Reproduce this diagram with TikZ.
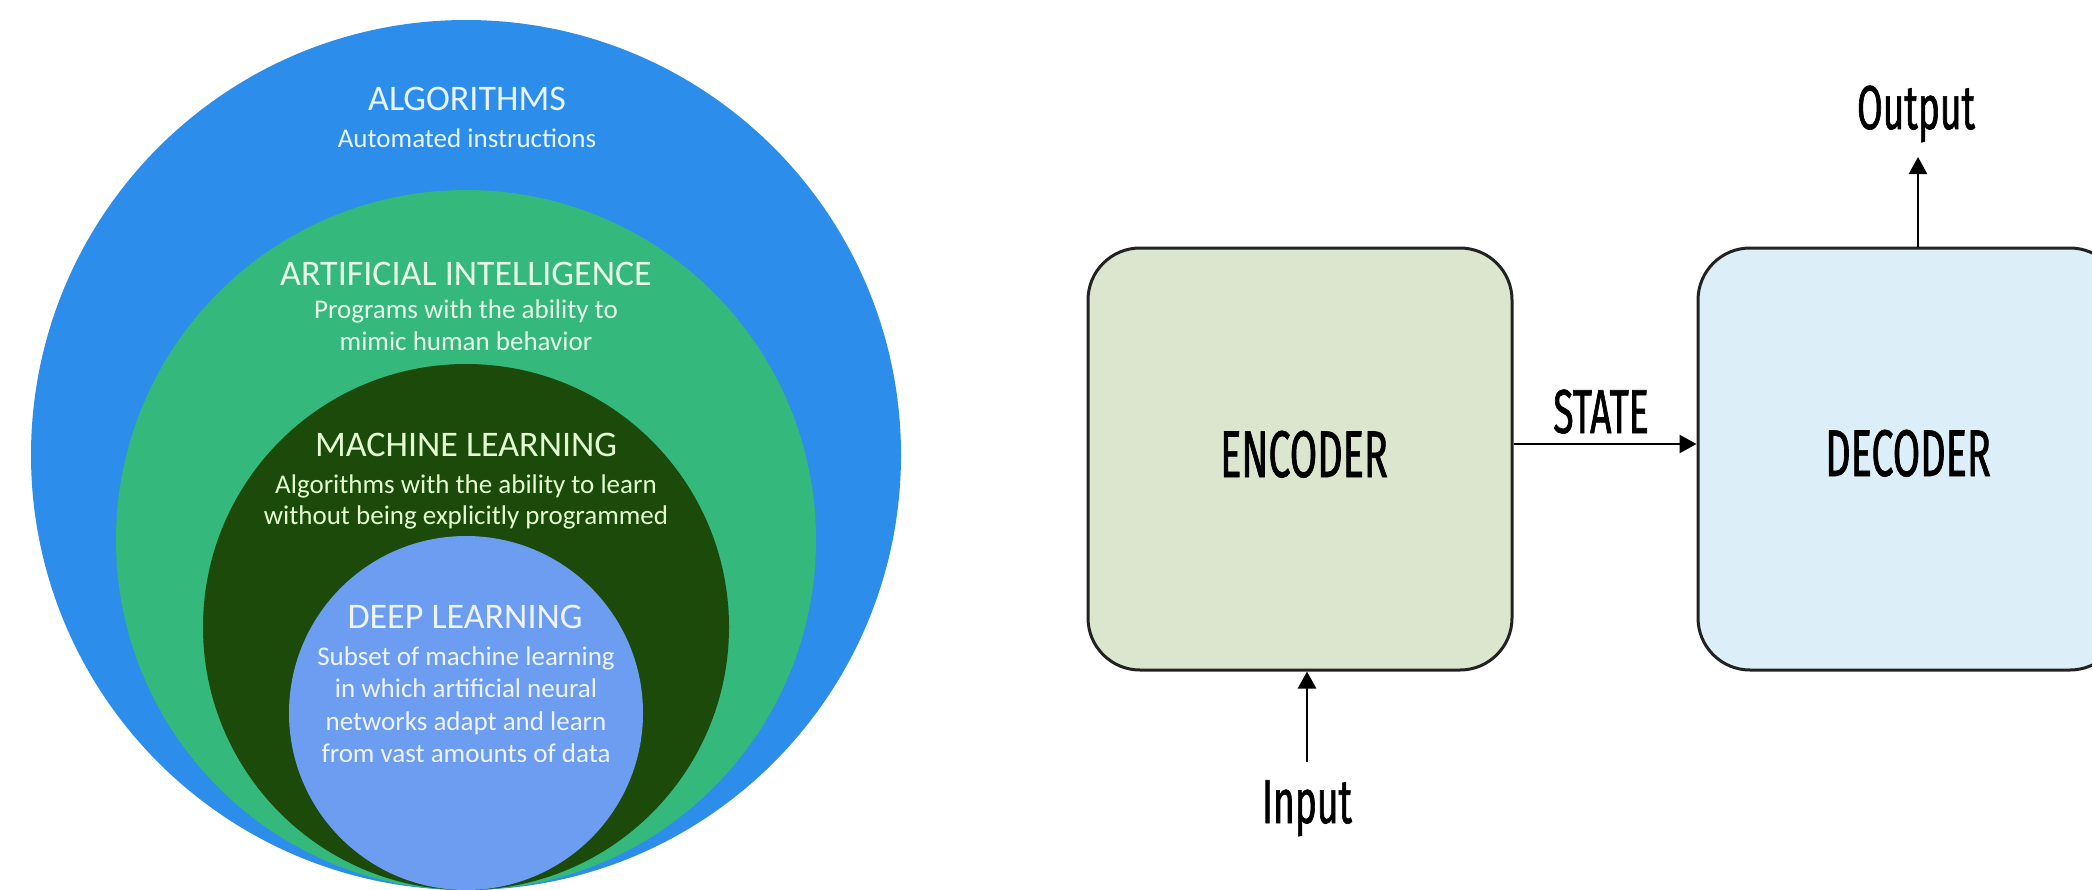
\documentclass[tikz,border=0pt]{standalone}
\usepackage{fontspec}
\setmainfont{Carlito}
\newfontfamily\condfont[FakeStretch=0.60,FakeBold=1]{Fira Sans}
\usetikzlibrary{arrows.meta}
\definecolor{algblue}{RGB}{44,142,234}
\definecolor{aigreen}{RGB}{52,184,124}
\definecolor{mldark}{RGB}{27,74,10}
\definecolor{dlblue}{RGB}{108,157,240}
\definecolor{txtalg}{RGB}{232,244,255}
\definecolor{txtai}{RGB}{232,252,232}
\definecolor{txtml}{RGB}{228,252,210}
\definecolor{txtdl}{RGB}{238,244,255}
\definecolor{encfill}{RGB}{220,230,207}
\definecolor{decfill}{RGB}{220,238,248}
\definecolor{edge}{RGB}{34,34,34}
\tikzset{
  disc/.style={circle, inner sep=0pt, draw=none},
  ttl/.style={anchor=base, inner sep=0pt, font=\fontsize{36}{40}\selectfont},
  sub/.style={anchor=base, inner sep=0pt, font=\fontsize{27}{32}\selectfont},
  blockbox/.style={rectangle, rounded corners=52pt, draw=edge, line width=3pt,
    minimum width=424pt, minimum height=422pt, inner sep=0pt},
  biglbl/.style={anchor=base, inner sep=0pt, text=black, font=\condfont\fontsize{66}{70}\selectfont},
  smalllbl/.style={anchor=base, inner sep=0pt, text=black, font=\condfont\fontsize{62}{66}\selectfont},
  arr/.style={line width=2.6pt, draw=black, -{Triangle[length=17pt,width=18pt]}}
}
\begin{document}
\begin{tikzpicture}[x=1pt,y=-1pt]
\useasboundingbox (0,0) rectangle (2092,889);
\clip (0,0) rectangle (2092,889);
\fill[white] (0,0) rectangle (2092,889);

% nested discs, tangent at the bottom
\node[disc, fill=algblue, minimum size=870pt] (alg) at (466,455) {};
\node[disc, fill=aigreen, minimum size=700pt] (ai) at (466,540) {};
\node[disc, fill=mldark, minimum size=526pt] (ml) at (466,627) {};
\node[disc, fill=dlblue, minimum size=354pt] (dl) at (466,713) {};

% texts of the discs
\node[ttl, text=txtalg] (algt) at (467,110) {ALGORITHMS};
\node[sub, text=txtalg] (algs) at (467,147) {Automated instructions};

\node[ttl, text=txtai] (ait) at (466,285) {ARTIFICIAL INTELLIGENCE};
\node[sub, text=txtai] (ais1) at (466,318) {Programs with the ability to};
\node[sub, text=txtai] (ais2) at (466,350) {mimic human behavior};

\node[ttl, text=txtml] (mlt) at (466,456) {MACHINE LEARNING};
\node[sub, text=txtml] (mls1) at (466,493) {Algorithms with the ability to learn};
\node[sub, text=txtml] (mls2) at (466,524) {without being explicitly programmed};

\node[ttl, text=txtdl] (dlt) at (465,628) {DEEP LEARNING};
\node[sub, text=txtdl] (dls1) at (466,665) {Subset of machine learning};
\node[sub, text=txtdl] (dls2) at (466,697) {in which artificial neural};
\node[sub, text=txtdl] (dls3) at (466,730) {networks adapt and learn};
\begin{scope}
\clip (0,0) rectangle (2092,761);
\node[sub, text=txtdl] (dls4) at (466,762) {from vast amounts of data};
\end{scope}

% encoder / decoder
\node[blockbox, fill=encfill] (enc) at (1300,459) {};
\node[blockbox, fill=decfill] (dec) at (1910,459) {};
\node[biglbl] (enct) at (1304,477) {ENCODER};
\node[biglbl] (dect) at (1908,476) {DECODER};
\node[smalllbl] (statet) at (1601,433) {STATE};
\node[smalllbl] (inputt) at (1307,823) {Input};
\node[smalllbl] (outputt) at (1916,129) {Output};

\coordinate (inp) at (1307,762);
\coordinate (outp) at (1918,157);
\draw[arr] ([yshift=15pt]enc.east) -- ([yshift=15pt]dec.west);
\draw[arr] (inp) -- (inp |- enc.south);
\draw[arr] (outp |- dec.north) -- (outp);
\end{tikzpicture}
\end{document}
